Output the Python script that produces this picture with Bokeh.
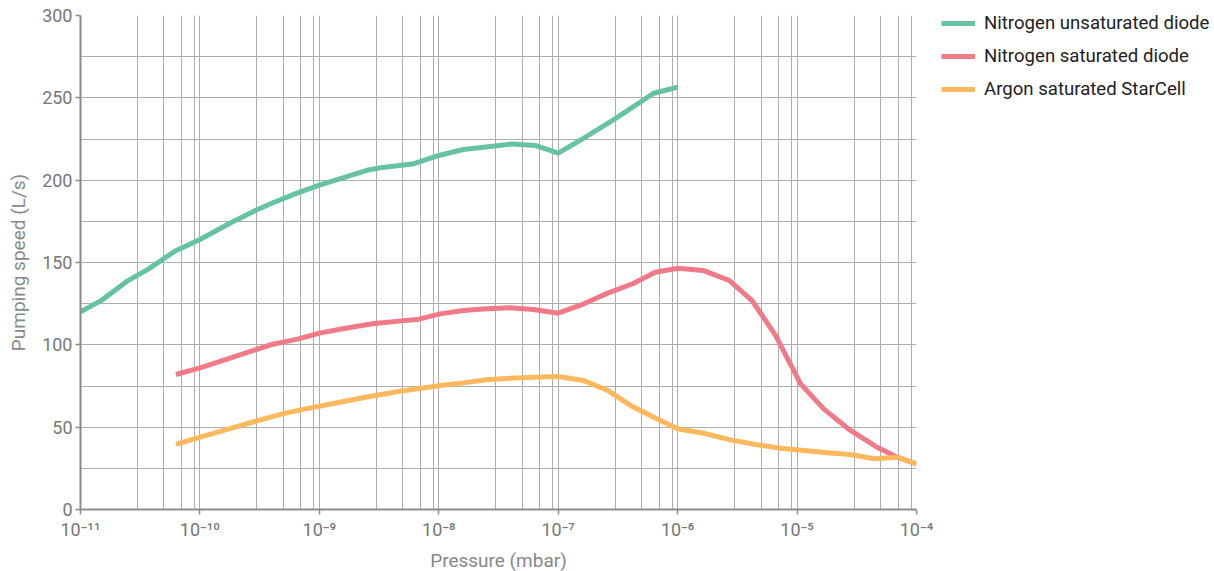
from bokeh.plotting import figure
from bokeh.models import FixedTicker, Legend, LegendItem, Range1d, CustomJSTickFormatter
from bokeh.embed import file_html
from bokeh.resources import INLINE

# ---- data ----
n2_unsat_p = [1e-11, 1.5e-11, 2.5e-11, 3.7e-11, 6.2e-11, 1e-10, 1.75e-10, 3e-10, 4e-10, 6.4e-10,
              1e-9, 1.5e-9, 2.5e-9, 3.25e-9, 6.2e-9, 1e-8, 1.6e-8, 2.7e-8, 4.1e-8, 6.5e-8,
              1e-7, 1.55e-7, 2.9e-7, 6.3e-7, 1e-6]
n2_unsat_s = [120, 127, 139, 146, 157, 164, 173.5, 182, 186, 192,
              197, 201, 206, 207.5, 210, 215, 218.6, 220.4, 222, 221,
              216.4, 224.5, 236.6, 252.8, 256.4]

n2_sat_p = [6.3e-11, 1e-10, 1.64e-10, 2.9e-10, 4e-10, 6.7e-10, 1e-9, 1.66e-9, 2.77e-9, 4.6e-9,
            6.8e-9, 1.03e-8, 1.6e-8, 2.5e-8, 4e-8, 6.2e-8, 1e-7, 1.64e-7, 2.6e-7, 4.2e-7,
            6.5e-7, 1e-6, 1.65e-6, 2.7e-6, 4.2e-6, 6.6e-6, 1.07e-5, 1.67e-5, 2.8e-5, 4.7e-5,
            6.9e-5, 1e-4]
n2_sat_s = [82, 86, 91, 97, 100.2, 103.6, 107.1, 110.1, 112.8, 114.4,
            115.6, 118.8, 120.8, 121.9, 122.5, 121.5, 119.2, 124.9, 131.4, 137.1,
            144.1, 146.5, 145.1, 139.1, 126.9, 105.7, 76.3, 61.1, 48, 37.8,
            31.8, 27.7]

ar_sat_p = [6.3e-11, 1e-10, 1.75e-10, 2.74e-10, 4.9e-10, 7.65e-10, 1.28e-9, 2.43e-9, 4.6e-9, 7.7e-9,
            1.03e-8, 1.6e-8, 2.5e-8, 4e-8, 6.2e-8, 1e-7, 1.64e-7, 2.6e-7, 4.03e-7, 6.7e-7,
            1e-6, 1.65e-6, 2.77e-6, 4.6e-6, 7.3e-6, 1.14e-5, 1.79e-5, 2.8e-5, 4.4e-5, 6.9e-5,
            1e-4]
ar_sat_s = [39.5, 43.9, 49, 53, 58.1, 61.1, 64.2, 68.2, 71.7, 73.9,
            75.3, 76.9, 78.8, 79.7, 80.3, 80.8, 78.3, 72.3, 63.2, 55.1,
            49, 46.3, 42.3, 39.3, 37.2, 35.8, 34.4, 33.4, 30.8, 31.8,
            27.7]

series_names = ["Nitrogen unsaturated diode", "Nitrogen saturated diode", "Argon saturated StarCell"]
series_colors = ["#66c2a5", "#f07a88", "#fbb85c"]

x_major = [1e-11, 1e-10, 1e-9, 1e-8, 1e-7, 1e-6, 1e-5, 1e-4]
x_minor_mult = [3, 5, 7, 9]
y_major = [0, 50, 100, 150, 200, 250, 300]
y_minor = [25, 75, 125, 175, 225, 275]

x_minor = [m * d for d in x_major[:-1] for m in x_minor_mult]

p = figure(x_axis_type="log", x_range=Range1d(1e-11, 1e-4), y_range=Range1d(0, 300),
           frame_width=836, frame_height=494,
           min_border_left=80, min_border_top=15, min_border_right=298, min_border_bottom=62,
           output_backend="svg", toolbar_location=None)
p.outline_line_color = None

p.xaxis.ticker = FixedTicker(ticks=x_major, minor_ticks=x_minor)
p.yaxis.ticker = FixedTicker(ticks=y_major, minor_ticks=y_minor)
p.xaxis.formatter = CustomJSTickFormatter(code="""
const e = Math.round(Math.log10(tick));
const sup = {'-':'\u207b','0':'\u2070','1':'\u00b9','2':'\u00b2','3':'\u00b3','4':'\u2074','5':'\u2075','6':'\u2076','7':'\u2077','8':'\u2078','9':'\u2079'};
return '10' + String(e).split('').map(c => sup[c]).join('');
""")

grid_col = "#adadad"
for g in (p.xgrid, p.ygrid):
    g.grid_line_color = grid_col
    g.minor_grid_line_color = grid_col
    g.grid_line_width = 1
    g.minor_grid_line_width = 1

for ax in (p.xaxis, p.yaxis):
    ax.axis_line_color = "#8c8c8c"
    ax.axis_line_width = 2
    ax.major_tick_line_color = "#8c8c8c"
    ax.major_tick_line_width = 1.5
    ax.major_tick_out = 5
    ax.major_tick_in = 0
    ax.minor_tick_line_color = None
    ax.major_label_text_font = "Roboto"
    ax.major_label_text_font_size = "18px"
    ax.major_label_text_color = "#777777"
    ax.axis_label_text_font = "Roboto"
    ax.axis_label_text_font_size = "19px"
    ax.axis_label_text_font_style = "normal"
    ax.axis_label_text_color = "#888888"

p.xaxis.axis_label = "Pressure (mbar)"
p.yaxis.axis_label = "Pumping speed (L/s)"
p.yaxis.major_label_standoff = 3
p.xaxis.major_label_standoff = 4
p.yaxis.axis_label_standoff = 9
p.xaxis.axis_label_standoff = 6

xs = [n2_unsat_p, n2_sat_p, ar_sat_p]
ys = [n2_unsat_s, n2_sat_s, ar_sat_s]
items = []
for x, y, name, col in zip(xs, ys, series_names, series_colors):
    r = p.line(x, y, line_width=5, line_color=col, line_join="round")
    items.append(LegendItem(label=name, renderers=[r]))

legend = Legend(items=items, location=(25, 408), margin=0, padding=0, spacing=9,
                glyph_width=34, glyph_height=24, label_height=24, label_standoff=9,
                label_text_font="Roboto", label_text_font_size="18.6px", label_text_color="#222222",
                border_line_color=None, background_fill_alpha=0)
p.add_layout(legend, "right")

open("out.html", "w").write(file_html(p, INLINE))
